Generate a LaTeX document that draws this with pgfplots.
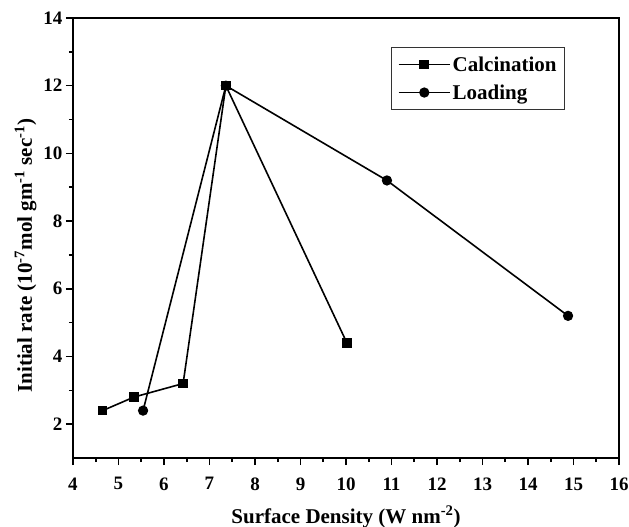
\documentclass[border=0pt]{standalone}
\usepackage{fontspec}
\setmainfont{Liberation Serif}
\usepackage{pgfplots}
\pgfplotsset{compat=1.18}
\begin{document}
\begin{tikzpicture}
\useasboundingbox (-73pt,-69pt) rectangle (556pt,458pt);
\begin{axis}[
  at={(0pt,0pt)}, anchor=south west,
  scale only axis, width=546pt, height=440pt,
  xmin=4, xmax=16, ymin=1, ymax=14,
  xtick={4,5,...,16}, ytick={2,4,...,14},
  minor x tick num=1, minor y tick num=1,
  tick pos=left, tick align=outside,
  major tick length=7pt, minor tick length=4pt,
  axis line style={line width=2pt},
  every tick/.style={line width=1.6pt, black},
  /pgf/number format/assume math mode=true,
  ticklabel style={font=\fontsize{19}{21}\selectfont\bfseries},
  xticklabel style={yshift=-9pt},
  label style={font=\fontsize{21}{24}\selectfont\bfseries},
  xlabel={Surface Density (W nm\textsuperscript{-2})},
  xlabel style={yshift=-9pt},
  ylabel={Initial rate (10\textsuperscript{-7}mol gm\textsuperscript{-1} sec\textsuperscript{-1})},
  ylabel style={at={(ticklabel cs:0.46)}},
  legend style={at={(axis description cs:0.901,0.934)}, anchor=north east, draw=black!80, line width=0.8pt,
    font=\fontsize{21}{24}\selectfont\bfseries, inner xsep=6pt, inner ysep=7pt, row sep=8pt},
  legend cell align=left,
  legend image code/.code={%
    \draw[mark repeat=2,mark phase=2,#1,line width=1.6pt] plot coordinates {(0cm,0cm) (0.9cm,0cm) (1.8cm,0cm)};},
]
\addplot[black, line width=1.6pt, mark=square*, mark size=4pt, mark options={solid}]
  coordinates {(4.65,2.4) (5.34,2.8) (6.42,3.2) (7.36,12.0) (10.02,4.4)};
\addlegendentry{Calcination\hspace{9pt}}
\addplot[black, line width=1.6pt, mark=*, mark size=4.3pt, mark options={solid}]
  coordinates {(5.54,2.4) (7.36,12.0) (10.9,9.2) (14.88,5.2)};
\addlegendentry{Loading}
\end{axis}
\end{tikzpicture}
\end{document}
